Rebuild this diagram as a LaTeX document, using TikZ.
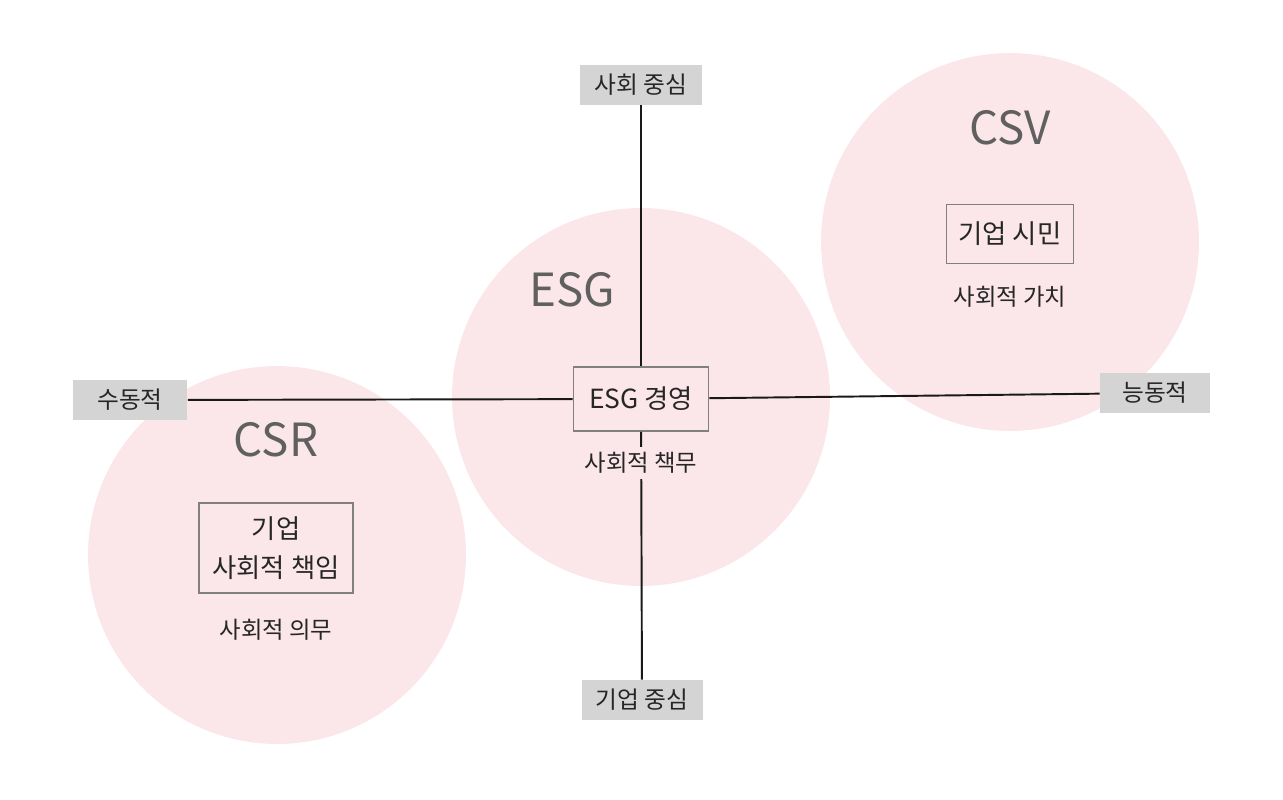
\documentclass[tikz,border=0pt]{standalone}
\usepackage{fontspec}
\setmainfont{Noto Sans CJK KR}
\usepackage{tikz}
\usetikzlibrary{positioning}
\definecolor{blush}{HTML}{FBE6EA}
\definecolor{tagGray}{HTML}{D4D4D4}
\definecolor{titleGray}{HTML}{606060}
\definecolor{frameGray}{HTML}{808080}

\begin{document}
\begin{tikzpicture}[
    x=0.02cm, y=-0.02cm,
    % quadrant circles
    circ/.style={circle, fill=blush, minimum size=7.56cm, inner sep=0pt},
    % gray axis tags
    tag/.style={fill=tagGray, minimum height=0.8cm, inner sep=2pt,
        font=\fontsize{13.5pt}{16pt}\selectfont, text=black!85},
    % framed keyword box
    frame/.style={draw=frameGray, line width=1.1pt, fill=blush, align=center,
        font=\fontsize{15pt}{22pt}\selectfont, text=black!85},
    title/.style={font=\fontsize{26pt}{30pt}\selectfont, text=titleGray},
    sub/.style={font=\fontsize{13.3pt}{16pt}\selectfont, text=black!85},
    axis/.style={line width=1.1pt, black!90}
]
    \useasboundingbox (0,0) rectangle (1283,799);

    % --- circles ---
    \node[circ] (csrC) at (277,555) {};
    \node[circ] (esgC) at (641,397) {};
    \node[circ] (csvC) at (1010,242) {};

    % --- axis tags ---
    \node[tag, minimum width=2.44cm] (top) at (641,85) {사회 중심};
    \node[tag, minimum width=2.42cm] (bottom) at (642,700) {기업 중심};
    \node[tag, minimum width=2.30cm] (left) at (130,400) {수동적};
    \node[tag, minimum width=2.20cm] (right) at (1155,393) {능동적};

    % --- ESG ---
    \node[frame, minimum width=2.7cm, minimum height=1.28cm] (esgBox) at (641,399) {ESG 경영};
    \draw[axis] (top) -- (esgBox);
    \draw[axis] (esgBox) -- (bottom);
    \draw[axis] (left) -- (esgBox);
    \draw[axis] (esgBox) -- (right);
    \node[sub, fill=blush, inner sep=3pt] (esgSub) at (641,463) {사회적 책무};
    \node[title] (esgT) at (572,290) {ESG};

    % --- CSR ---
    \node[title] (csrT) at (276,440) {CSR};
    \node[frame, minimum width=3.08cm, minimum height=1.8cm] (csrBox) at (276,548) {기업\\사회적 책임};
    \node[sub] (csrSub) at (276,630) {사회적 의무};

    % --- CSV ---
    \node[title] (csvT) at (1010,128) {CSV};
    \node[frame, minimum width=2.54cm, minimum height=1.18cm] (csvBox) at (1010,234) {기업 시민};
    \node[sub] (csvSub) at (1010,297) {사회적 가치};
\end{tikzpicture}
\end{document}
